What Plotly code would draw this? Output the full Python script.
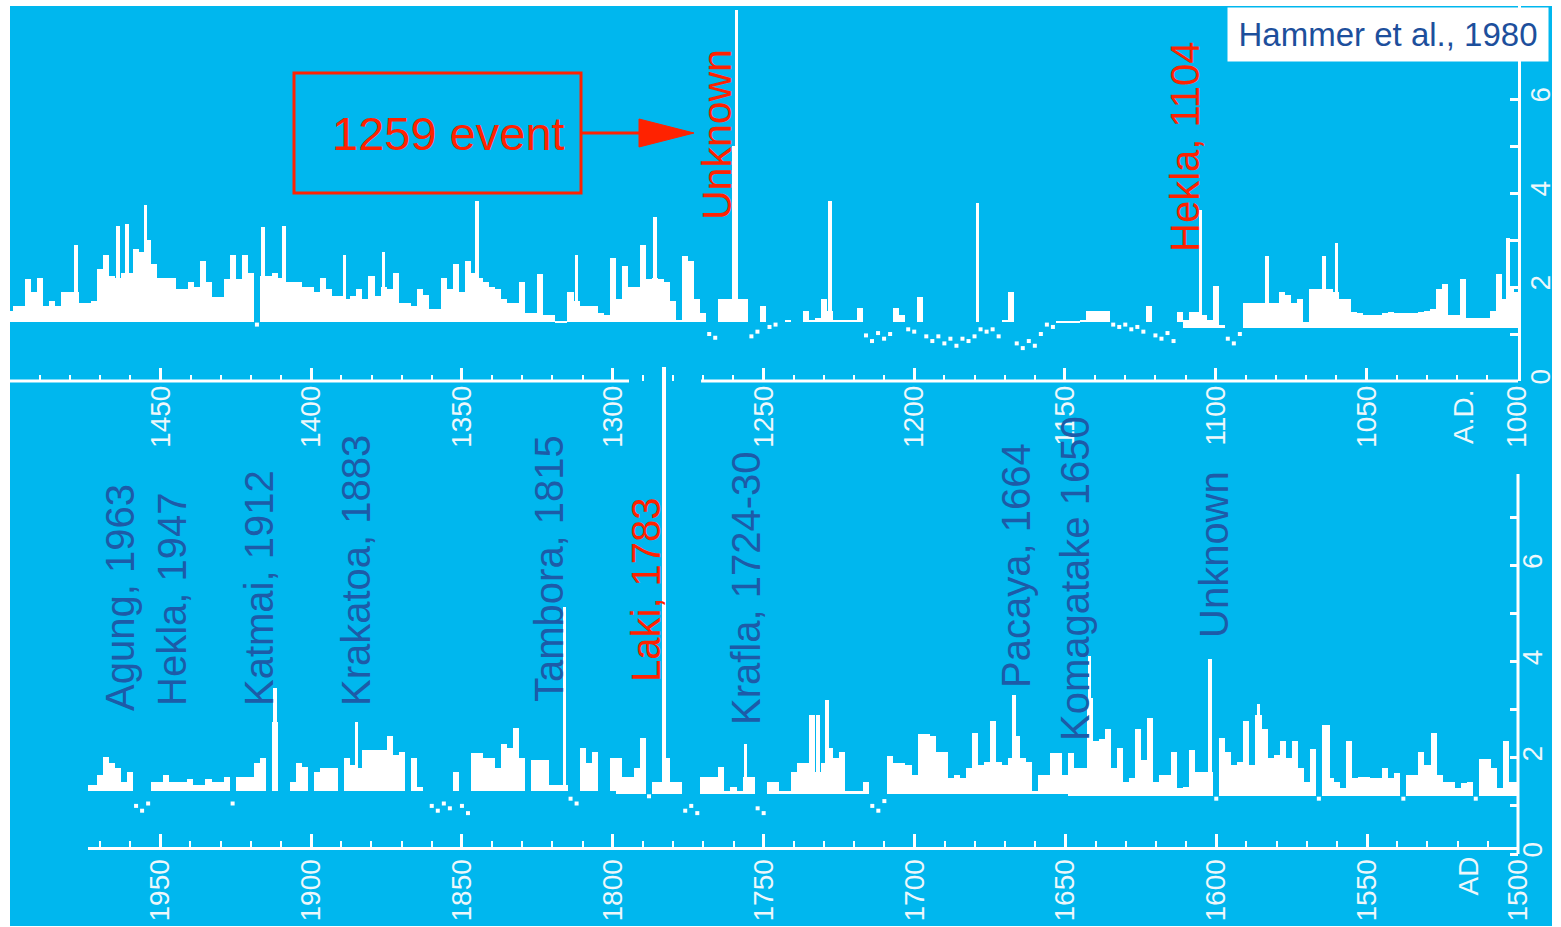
import plotly.graph_objects as go

W, H = 1561, 927

CYAN = "#00b7ee"
WHITE = "#ffffff"
RED = "#ff2200"
BLUE = "#1d5ba8"
LABEL = "#eef7fb"
FONT = "Liberation Sans, Arial, sans-serif"

# ---- Acidity record, upper strip: AD 1500 -> 1000, 2-year bins (newest first)
top_start = 1500
top_acidity = [
    1.5, 1.6, 1.6, 2.17, 1.9, 2.2, 1.6, 1.7, 1.6, 1.9,
    1.9, 1.9, 1.67, 1.67, 1.7, 2.38, 2.69, 2.23, 2.2, 2.3,
    2.3, 2.8, 2.74, 3.0, 2.5, 2.2, 2.2, 2.2, 1.96, 1.96,
    2.1, 2.0, 2.56, 2.1, 1.78, 1.78, 2.17, 2.69, 2.17, 2.69,
    2.3, 1.2, 2.24, 2.24, 2.3, 2.2, 2.1, 2.1, 2.1, 2.0,
    2.0, 1.9, 2.2, 1.95, 1.8, 1.8, 1.74, 1.8, 1.95, 1.74,
    2.24, 1.8, 2.0, 1.96, 2.3, 1.67, 1.67, 1.6, 1.96, 1.82,
    1.53, 1.53, 2.2, 1.96, 2.5, 1.89, 2.56, 2.3, 2.2, 2.1,
    2.0, 1.96, 1.74,
    1.67, 1.67, 2.1, 1.45, 1.45, 2.27, 1.4, 1.4, 1.26, 1.26,
    1.9, 1.7, 1.6, 1.6, 1.6, 1.45, 1.4, 2.62, 1.74, 2.45,
    2.0, 2.0, 2.9, 2.17, 2.2, 2.17, 2.1, 1.71, 1.3, 2.66,
    2.56, 1.74, 1.45, 1.0, 0.92, 1.74, 1.74, 1.74, 1.74, 1.74,
    0.95, 1.05, 1.6, 1.15, 1.2, 1.25, 1.3, 1.25, 1.25, 1.5,
    1.3, 1.35, 1.74, 1.5, 1.3, 1.3, 1.3, 1.3, 1.56, 0.97,
    0.85, 1.02, 0.9, 1.0, 1.56, 1.4, 1.1, 1.05, 1.78, 0.95,
    0.85, 0.95, 0.8, 0.9, 0.75, 0.9, 0.85, 0.95, 1.1, 1.05,
    1.1, 0.95, 1.3, 1.9,
    0.8, 0.7, 0.85, 0.75, 1.0, 1.2, 1.15, 1.26, 1.26, 1.26,
    1.26, 1.3, 1.5, 1.5, 1.5, 1.5, 1.2, 1.15, 1.2, 1.1,
    1.15, 1.05, 1.6, 0.97, 0.9, 1.02, 0.85, 1.47, 1.3, 1.47,
    1.47, 1.4, 1.3, 2.03, 1.2, 0.9, 0.8, 1.0, 1.67, 1.67,
    1.67, 1.67, 1.67, 1.67, 1.9, 1.82, 1.67, 1.74, 1.26, 1.96,
    1.96, 1.96, 1.96, 1.9, 1.74, 1.74, 1.47, 1.45, 1.4, 1.4,
    1.4, 1.45, 1.47, 1.45, 1.45, 1.45, 1.45, 1.47, 1.5, 1.53,
    1.96, 2.06, 1.4, 1.4, 2.17, 1.33, 1.33, 1.33, 1.33, 1.5,
    2.27, 1.74, 1.96, 1.89,
]
top_spike_years = [1478, 1464, 1461, 1455, 1416, 1409, 1389, 1376, 1345, 1312,
                   1286, 1260, 1259, 1228, 1179, 1105, 1083, 1064, 1060, 1003]
top_spike_values = [2.9, 3.29, 3.33, 3.74, 3.27, 3.29, 2.69, 2.74, 3.82, 2.69,
                    3.5, 5.0, 7.9, 3.82, 3.78, 3.64, 2.66, 2.66, 2.94, 3.05]
# baseline level of the strip: (from year, to year, level)
top_floor = [(1500, 1111, 1.25), (1110, 1000, 1.12)]

# ---- Acidity record, lower strip: AD 1974 -> 1500, 2-year bins (newest first)
bottom_start = 1974
bottom_acidity = [
    1.44, 1.44, 1.64, 2.02, 1.9, 1.78, 1.5, 1.7, 1.0, 0.9,
    1.05, 1.5, 1.5, 1.64, 1.5, 1.5, 1.5, 1.55, 1.44, 1.44,
    1.55, 1.5, 1.5, 1.6, 1.05, 1.6, 1.6, 1.6, 1.9, 2.0,
    1.3, 2.75, 1.3, 1.3, 1.5, 1.9, 1.8, 1.3, 1.7, 1.78,
    1.78, 1.78, 1.3, 2.0, 1.85, 1.78, 2.16, 2.16, 2.16, 2.16,
    2.45, 2.05, 2.12, 1.3, 2.0, 1.4, 1.3, 1.0, 0.9, 1.05,
    0.95, 1.7, 1.0, 0.85, 2.1, 2.1, 2.0, 2.0, 1.78, 2.28,
    2.2, 2.62, 1.99, 1.3, 1.95, 1.95, 1.95, 1.44, 1.44, 1.44,
    1.15, 1.05, 2.2, 1.9, 2.12, 1.3, 1.3, 1.99, 1.99, 1.6,
    1.6, 1.78, 2.41, 1.2, 1.5, 1.5, 1.99, 1.5, 1.5, 0.9,
    1.0, 0.85, 1.6, 1.6, 1.6, 1.8, 1.3, 1.4, 1.3, 1.6,
    1.6, 0.95, 0.85, 1.5, 1.5, 1.3, 1.3, 1.7, 1.9, 1.9,
    2.9, 1.7, 1.9, 2.2, 1.99, 2.12, 1.3, 1.3, 1.3, 1.5,
    1.0, 0.9, 1.1, 2.03, 1.9, 1.9, 1.85, 1.64, 2.5, 2.5,
    2.45, 2.12, 2.12, 1.57, 1.64, 1.57, 1.78, 2.51, 1.85, 1.92,
    2.76, 1.92, 1.85, 2.0, 2.45, 1.99, 1.92, 1.3, 1.64, 1.64,
    2.1, 2.1, 1.64, 2.1, 1.78, 1.78, 3.25, 2.34, 2.4, 2.6,
    1.78, 2.2, 1.5, 1.57, 2.6, 1.96, 2.83, 1.5, 1.64, 1.64,
    2.13, 1.37, 1.4, 2.17, 1.71, 1.71, 1.71, 1.15, 2.41, 2.13,
    1.85, 1.92, 2.76, 1.85, 2.9, 2.6, 1.99, 2.06, 2.34, 1.99,
    2.34, 1.78, 1.5, 2.19, 1.15, 2.69, 1.57, 1.5, 1.37, 2.34,
    1.57, 1.6, 1.6, 1.57, 1.57, 1.78, 1.57, 1.68, 1.15, 1.64,
    1.64, 2.13, 1.85, 2.52, 1.64, 1.5, 1.5, 1.37, 1.47, 1.5,
    1.15, 1.98, 1.98, 1.78, 1.37, 2.34, 1.5, 1.5,
]
bottom_spike_years = [1912, 1885, 1816, 1783, 1756, 1732, 1729, 1667, 1642, 1602, 1586, 1563]
bottom_spike_values = [3.45, 2.75, 5.13, 10.12, 2.28, 2.9, 3.21, 3.31, 4.12, 4.05, 3.11, 2.69]
bottom_floor = [(1975, 1800, 1.3), (1799, 1650, 1.25), (1649, 1500, 1.2)]

# eruption labels: text, colour, pixel centre x, pixel centre y, font size
top_events = [("Unknown", RED, 717, 135, 41), ("Hekla, 1104", RED, 1185, 147, 40)]
bottom_events = [
    ("Agung, 1963", BLUE, 120, 598, 40),
    ("Hekla, 1947", BLUE, 172, 600, 40),
    ("Katmai, 1912", BLUE, 259, 588, 40),
    ("Krakatoa, 1883", BLUE, 356, 571, 40),
    ("Tambora, 1815", BLUE, 549, 569, 40),
    ("Laki, 1783", RED, 646, 590, 40),
    ("Krafla, 1724-30", BLUE, 746, 588, 40),
    ("Pacaya, 1664", BLUE, 1016, 566, 40),
    ("Komagatake 1650", BLUE, 1075, 579, 40),
    ("Unknown", BLUE, 1214, 555, 40),
]


def fx(p):
    return p / W


def fy(p):
    return 1 - p / H


def floor_at(segments, year):
    for hi, lo, lvl in segments:
        if lo <= year <= hi:
            return lvl
    return segments[-1][2]


def split_record(start, values, segments):
    years = [start - 2 * i for i in range(len(values))]
    bars_x, bars_base, bars_h, dots_x, dots_y = [], [], [], [], []
    for yr, v in zip(years, values):
        f = floor_at(segments, yr)
        if v > f:
            bars_x.append(yr)
            bars_base.append(f)
            bars_h.append(v - f)
        elif v < f - 0.02:
            dots_x.append(yr)
            dots_y.append(v)
    return bars_x, bars_base, bars_h, dots_x, dots_y


def spikes(years, values, segments):
    base = [floor_at(segments, y) for y in years]
    return years, base, [v - b for v, b in zip(values, base)]


fig = go.Figure()

for (start, vals, segs, sy, sv, xa, ya) in [
    (top_start, top_acidity, top_floor, top_spike_years, top_spike_values, "x", "y"),
    (bottom_start, bottom_acidity, bottom_floor, bottom_spike_years, bottom_spike_values, "x2", "y2"),
]:
    bx, bb, bh, dx, dy = split_record(start, vals, segs)
    fig.add_trace(go.Bar(x=bx, y=bh, base=bb, width=2.0, xaxis=xa, yaxis=ya,
                         marker=dict(color=WHITE, line=dict(width=0)), opacity=1,
                         hoverinfo="skip"))
    kx, kb, kh = spikes(sy, sv, segs)
    fig.add_trace(go.Bar(x=kx, y=kh, base=kb, width=1.2, xaxis=xa, yaxis=ya,
                         marker=dict(color=WHITE, line=dict(width=0)), opacity=1,
                         hoverinfo="skip"))
    fig.add_trace(go.Scatter(x=dx, y=dy, mode="markers", xaxis=xa, yaxis=ya,
                             marker=dict(symbol="square", size=4, color=WHITE),
                             hoverinfo="skip"))

tickfont = dict(family=FONT, size=28, color=LABEL)

xcommon = dict(
    showgrid=False, zeroline=False, automargin=False,
    tickmode="linear", tick0=1000, dtick=50,
    ticks="inside", ticklen=13, tickwidth=2.5, tickcolor=WHITE,
    tickangle=-90, tickfont=tickfont, ticklabelstandoff=-2,
    minor=dict(ticks="inside", ticklen=6, tickwidth=2, tickcolor=WHITE,
               tickmode="linear", tick0=1000, dtick=10, showgrid=False),
)
ycommon = dict(
    showgrid=False, zeroline=False, automargin=False, side="right",
    tickmode="array", tickvals=[0, 2, 4, 6], ticks="inside", ticklen=8,
    tickwidth=2.5, tickcolor=WHITE, tickangle=-90,
    tickfont=dict(family=FONT, size=28, color=LABEL), ticklabelstandoff=-5,
)

fig.update_layout(
    width=W, height=H, margin=dict(l=0, r=0, t=0, b=0, pad=0), autosize=False,
    paper_bgcolor=WHITE, plot_bgcolor="rgba(0,0,0,0)",
    showlegend=False, barmode="overlay", bargap=0,
    xaxis=dict(domain=[fx(10), fx(1518)], range=[1499.9, 999.75], anchor="y",
               showline=False, **xcommon),
    yaxis=dict(domain=[fy(381), fy(6)], range=[0, 375 / 47], anchor="x",
               showline=True, linecolor=WHITE, linewidth=3,
               minor=dict(ticks="inside", ticklen=8, tickwidth=2.5,
                          tickcolor=WHITE, tickvals=[1, 3, 5]),
               **ycommon),
    xaxis2=dict(domain=[fx(88), fx(1518)], range=[1973.93, 1500], anchor="free",
                position=fy(848), showline=True, linecolor=WHITE, linewidth=3,
                **xcommon),
    yaxis2=dict(domain=[0, fy(360)], range=[-73 / 48.1, 494 / 48.1], anchor="x2",
                showline=False,
                minor=dict(ticks="inside", ticklen=8, tickwidth=2.5,
                           tickcolor=WHITE, tickvals=[1, 3, 5, 7]),
                **ycommon),
)

shapes = [
    # cyan page
    dict(type="rect", xref="paper", yref="paper", x0=fx(10), x1=fx(1552),
         y0=fy(926), y1=fy(6), fillcolor=CYAN, line=dict(width=0), layer="below"),
    # upper time axis, interrupted where the Laki spike passes
    dict(type="line", xref="x", yref="paper", x0=1500.5, x1=1294.6,
         y0=fy(381), y1=fy(381), line=dict(color=WHITE, width=3)),
    dict(type="line", xref="x", yref="paper", x0=1270.7, x1=999.0,
         y0=fy(381), y1=fy(381), line=dict(color=WHITE, width=3)),
    # lower acidity axis line
    dict(type="line", xref="paper", yref="y2", x0=fx(1518), x1=fx(1518),
         y0=0, y1=7.9, line=dict(color=WHITE, width=3)),
    # 1259 event callout
    dict(type="rect", xref="paper", yref="paper", x0=fx(294), x1=fx(581),
         y0=fy(193), y1=fy(73), line=dict(color=RED, width=3)),
    dict(type="line", xref="paper", yref="paper", x0=fx(581), x1=fx(645),
         y0=fy(133), y1=fy(133), line=dict(color=RED, width=3)),
    dict(type="path", xref="paper", yref="paper",
         path=f"M {fx(639)},{fy(119)} L {fx(694)},{fy(133)} L {fx(639)},{fy(147)} Z",
         fillcolor=RED, line=dict(color=RED, width=1)),
]
fig.update_layout(shapes=shapes)

ann = []
for text, color, cx, cy, size in top_events + bottom_events:
    ann.append(dict(text=text, xref="paper", yref="paper", x=fx(cx), y=fy(cy),
                    xanchor="center", yanchor="middle", textangle=-90,
                    showarrow=False, font=dict(family=FONT, size=size, color=color)))
ann.append(dict(text="1259 event", xref="paper", yref="paper", x=fx(448), y=fy(133),
                xanchor="center", yanchor="middle", showarrow=False,
                font=dict(family=FONT, size=47, color=RED)))
ann.append(dict(text="Hammer et al., 1980", xref="paper", yref="paper",
                x=fx(1388), y=fy(34.5), xanchor="center", yanchor="middle",
                showarrow=False, bgcolor=WHITE, width=316, height=49, borderpad=2,
                font=dict(family=FONT, size=33, color="#1d4f9c")))
ann.append(dict(text="A.D.", xref="paper", yref="paper", x=fx(1463), y=fy(388),
                xanchor="center", yanchor="top", textangle=-90, showarrow=False,
                font=dict(family=FONT, size=28, color=LABEL)))
ann.append(dict(text="AD", xref="paper", yref="paper", x=fx(1468), y=fy(855),
                xanchor="center", yanchor="top", textangle=-90, showarrow=False,
                font=dict(family=FONT, size=28, color=LABEL)))
fig.update_layout(annotations=ann)

fig.write_html("out.html")
